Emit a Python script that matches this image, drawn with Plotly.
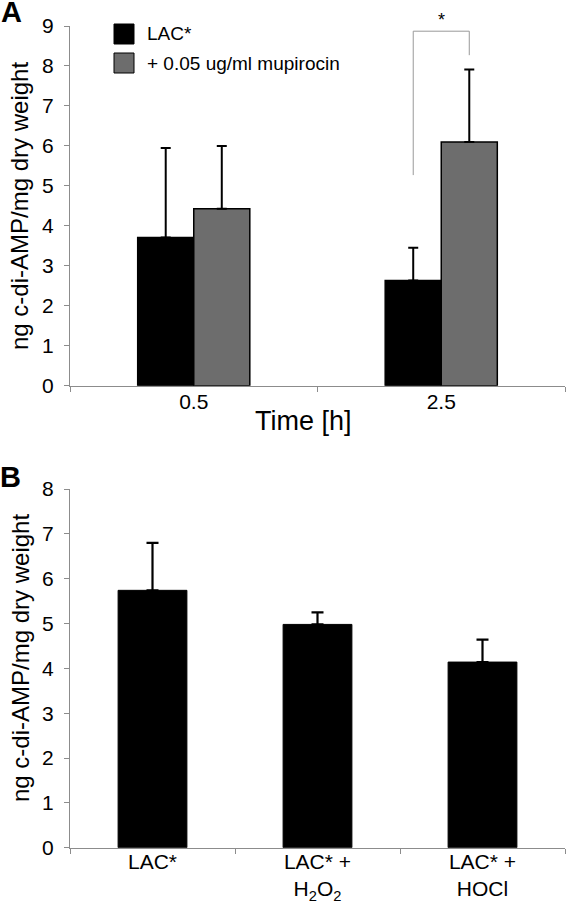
import plotly.graph_objects as go

# ---- data ----
time_labels = ["0.5", "2.5"]
lac_values = [3.71, 2.63]
lac_errors = [2.24, 0.82]
mup_values = [4.43, 6.10]
mup_errors = [1.57, 1.81]

treat_labels = ["LAC*", "LAC* +<br>H<sub>2</sub>O<sub>2</sub>", "LAC* +<br>HOCl"]
treat_values = [5.74, 4.98, 4.14]
treat_errors = [1.06, 0.27, 0.50]

W, H = 566, 903
ML, MR = 70, 1
PW = W - ML - MR
FONT = "Liberation Sans, Arial, sans-serif"
GRAY = "#6d6d6d"
AXC = "#8c8c8c"


def px(x):
    return (x - ML) / PW


def py(y):
    return 1 - y / H


fig = go.Figure()

fig.add_trace(go.Bar(
    x=time_labels, y=lac_values, name="LAC*", xaxis="x", yaxis="y",
    marker=dict(color="black", line=dict(color="black", width=1.5)),
    error_y=dict(type="data", array=lac_errors, arrayminus=[0] * len(lac_errors),
                 symmetric=False, color="black", thickness=2, width=5),
    showlegend=False,
))
fig.add_trace(go.Bar(
    x=time_labels, y=mup_values, name="+ 0.05 ug/ml mupirocin", xaxis="x", yaxis="y",
    marker=dict(color=GRAY, line=dict(color="black", width=1.5)),
    error_y=dict(type="data", array=mup_errors, arrayminus=[0] * len(mup_errors),
                 symmetric=False, color="black", thickness=2, width=5),
    showlegend=False,
))
fig.add_trace(go.Bar(
    x=treat_labels, y=treat_values, xaxis="x2", yaxis="y2", width=0.417,
    marker=dict(color="black", line=dict(color="black", width=1)),
    error_y=dict(type="data", array=treat_errors, arrayminus=[0] * len(treat_errors),
                 symmetric=False, color="black", thickness=2.2, width=6),
    showlegend=False,
))

axis_common = dict(
    showline=True, linecolor=AXC, linewidth=1, ticks="outside", ticklen=5,
    tickcolor=AXC, tickwidth=1, showgrid=False, zeroline=False, automargin=False,
    tickfont=dict(family=FONT, size=21, color="black"),
)

fig.update_layout(
    width=W, height=H,
    margin=dict(l=ML, r=MR, t=0, b=0, autoexpand=False),
    paper_bgcolor="white", plot_bgcolor="white",
    barmode="group", bargap=0.547, bargroupgap=0,
    font=dict(family=FONT, color="black"),
    xaxis=dict(domain=[0, 1], anchor="y", type="category", tickson="boundaries",
               ticklabelstandoff=-3, **axis_common),
    yaxis=dict(domain=[py(385.7), py(26)], anchor="x", range=[0, 9], dtick=1,
               ticklabelstandoff=6, **axis_common),
    xaxis2=dict(domain=[0, 1], anchor="y2", type="category", tickson="boundaries",
                ticklabelstandoff=-5, **axis_common),
    yaxis2=dict(domain=[py(847.7), py(489)], anchor="x2", range=[0, 8], dtick=1,
                ticklabelstandoff=6, **axis_common),
)

# significance bracket (top panel)
half = (1 - 0.547) / 4
xl, xr = 1 - half, 1 + half
fig.add_shape(type="path", xref="x", yref="y",
              path=f"M {xl},5.27 L {xl},8.87 L {xr},8.87 L {xr},8.27",
              line=dict(color="#999999", width=1))
fig.add_annotation(x=1, y=py(20), xref="x", yref="paper", text="*",
                   showarrow=False, xanchor="center", yanchor="middle",
                   font=dict(family=FONT, size=18, color="black"))

# legend (manual)
fig.add_shape(type="rect", xref="paper", yref="paper",
              x0=px(114), x1=px(134), y0=py(44), y1=py(24),
              fillcolor="black", line=dict(color="black", width=1))
fig.add_shape(type="rect", xref="paper", yref="paper",
              x0=px(114), x1=px(134), y0=py(73), y1=py(53),
              fillcolor=GRAY, line=dict(color="black", width=1))
fig.add_annotation(x=px(145), y=py(34), xref="paper", yref="paper", text="LAC*",
                   showarrow=False, xanchor="left", yanchor="middle",
                   font=dict(family=FONT, size=19, color="black"))
fig.add_annotation(x=px(145), y=py(63), xref="paper", yref="paper",
                   text="+ 0.05 ug/ml mupirocin",
                   showarrow=False, xanchor="left", yanchor="middle",
                   font=dict(family=FONT, size=19, color="black"))

# axis titles
ytitle = "ng c-di-AMP/mg dry weight"
fig.add_annotation(x=px(20), y=py(206), xref="paper", yref="paper", text=ytitle,
                   textangle=-90, showarrow=False, xanchor="center", yanchor="middle",
                   font=dict(family=FONT, size=24, color="black"))
fig.add_annotation(x=px(20), y=py(658), xref="paper", yref="paper", text=ytitle,
                   textangle=-90, showarrow=False, xanchor="center", yanchor="middle",
                   font=dict(family=FONT, size=24, color="black"))
fig.add_annotation(x=px(303), y=py(421), xref="paper", yref="paper", text="Time [h]",
                   showarrow=False, xanchor="center", yanchor="middle",
                   font=dict(family=FONT, size=27, color="black"))

# panel letters
fig.add_annotation(x=px(11), y=py(12), xref="paper", yref="paper", text="<b>A</b>",
                   showarrow=False, xanchor="center", yanchor="middle",
                   font=dict(family=FONT, size=29, color="black"))
fig.add_annotation(x=px(10), y=py(477), xref="paper", yref="paper", text="<b>B</b>",
                   showarrow=False, xanchor="center", yanchor="middle",
                   font=dict(family=FONT, size=29, color="black"))

post = (
    "document.documentElement.style.margin='0';"
    "document.documentElement.style.padding='0';"
    "document.documentElement.style.overflow='hidden';"
    "document.body.style.margin='0';"
    "document.body.style.padding='0';"
    "document.body.style.overflow='hidden';"
    "document.body.style.height='903px';"
    "var gd=document.getElementById('{plot_id}');"
    "gd.style.position='absolute';gd.style.top='0px';gd.style.left='0px';"
)

fig.write_html("out.html", post_script=post, config={"displayModeBar": False})
